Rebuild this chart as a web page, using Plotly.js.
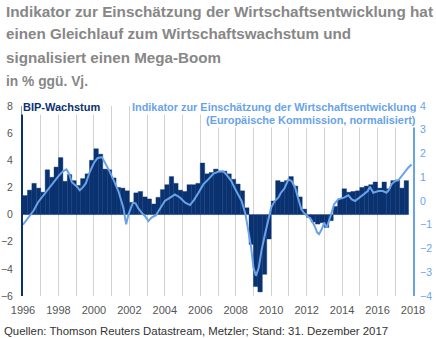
<!DOCTYPE html>
<html>
<head>
<meta charset="utf-8">
<script src="https://cdn.plot.ly/plotly-3.0.1.min.js"></script>
<style>html,body{margin:0;padding:0;background:#fff;}#chart{width:436px;height:338px;}</style>
</head>
<body>
<div id="chart"></div>
<script>
// Quarterly real GDP growth, % y/y, starting 1996 Q1 (through 2017 Q3)
const gdpStartYear = 1996;
const gdpGrowth = [
  1.4, 1.8, 2.3, 1.95,
  1.65, 3.3, 2.75, 3.5,
  4.2, 2.45, 2.95, 2.5,
  2.15, 2.65, 3.0, 4.0,
  4.85, 4.45, 3.35, 3.3,
  2.7, 2.0, 1.95, 1.75,
  0.9, 1.6, 1.7, 1.3,
  1.15, 0.78, 1.27, 1.84,
  2.2, 2.8, 2.3, 1.8,
  1.7, 2.2, 2.2, 2.3,
  3.8, 3.0, 3.1, 3.35,
  3.2, 3.2, 3.0, 2.6,
  2.25, 1.75, 0.5, -2.2,
  -5.3, -5.7, -4.4, -1.8,
  1.0, 2.5, 2.4, 2.5,
  2.8, 2.1, 1.3, 0.4,
  -0.2, -0.55, -0.7, -0.6,
  -0.95, -0.45, 0.6, 1.15,
  1.9, 1.65, 1.7, 1.75,
  2.0, 2.1, 2.2, 2.4,
  1.95, 2.4, 1.9, 2.5,
  2.55, 1.95, 2.5
];

// Economic sentiment indicator (European Commission, normalised)
const indicatorDates = [
  1996.0, 1996.2, 1996.4, 1996.6, 1996.85, 1997.15, 1997.4, 1997.7, 1998.0, 1998.25,
  1998.45, 1998.6, 1998.75, 1998.9, 1999.05, 1999.2, 1999.35, 1999.55, 1999.75, 2000.0,
  2000.2, 2000.45, 2000.65, 2000.85, 2001.1, 2001.38, 2001.66, 2001.82, 2001.95, 2002.2,
  2002.35, 2002.5, 2002.7, 2002.9, 2003.07, 2003.25, 2003.5, 2003.75, 2004.0, 2004.3,
  2004.57, 2004.85, 2005.15, 2005.42, 2005.65, 2005.9, 2006.17, 2006.45, 2006.75, 2007.0,
  2007.3, 2007.55, 2007.75, 2007.95, 2008.15, 2008.33, 2008.55, 2008.71, 2008.87, 2009.0,
  2009.14, 2009.3, 2009.45, 2009.65, 2009.85, 2010.0, 2010.2, 2010.4, 2010.55, 2010.75,
  2010.97, 2011.15, 2011.35, 2011.55, 2011.7, 2011.85, 2012.05, 2012.25, 2012.45, 2012.6,
  2012.7, 2012.85, 2012.99, 2013.13, 2013.35, 2013.55, 2013.78, 2014.1, 2014.35, 2014.55,
  2014.73, 2014.95, 2015.2, 2015.45, 2015.57, 2015.76, 2016.05, 2016.3, 2016.5, 2016.62,
  2016.79, 2016.98, 2017.17, 2017.36, 2017.55, 2017.73, 2017.92
];
const indicatorValues = [
  -1.0, -0.8, -0.65, -0.4, -0.05, 0.25, 0.5, 0.8, 1.05, 1.25,
  1.33, 1.15, 0.8, 0.7, 0.6, 0.45, 0.55, 0.75, 1.2, 1.6,
  1.8, 1.85, 1.6, 1.3, 0.9, 0.42, -0.28, -0.98, -0.56, -0.07,
  -0.1, -0.3, -0.5, -0.65, -0.85, -0.7, -0.6, -0.28, 0.0, 0.14,
  0.28, 0.15, -0.07, -0.17, 0.05, 0.35, 0.7, 0.91, 1.15, 1.23,
  1.25, 1.05, 0.84, 0.53, 0.28, 0.0, -0.56, -1.26, -1.96, -2.8,
  -3.15, -2.8, -2.1, -1.4, -0.7, -0.28, 0.0, 0.14, 0.35, 0.53,
  0.91, 0.84, 0.56, 0.07, -0.35, -0.5, -0.63, -0.77, -1.05, -1.33,
  -1.4, -1.19, -0.91, -1.12, -0.63, -0.14, 0.07, 0.14, 0.24, 0.07,
  0.0, 0.14, 0.3, 0.42, 0.6, 0.35, 0.42, 0.42, 0.35, 0.45,
  0.7, 0.84, 0.87, 1.05, 1.26, 1.4, 1.54
];

const yearTicks = [1996,1997,1998,1999,2000,2001,2002,2003,2004,2005,2006,2007,2008,2009,2010,2011,2012,2013,2014,2015,2016,2017,2018];
const yearTickLabels = ['1996','','1998','','2000','','2002','','2004','','2006','','2008','','2010','','2012','','2014','','2016','','2018'];
const leftTicks = [-6,-4,-2,0,2,4,6,8];
const rightTicks = [-4,-3,-2,-1,0,1,2,3,4];

const titleLines = [
  'Indikator zur Einschätzung der Wirtschaftsentwicklung hat',
  'einen Gleichlauf zum Wirtschaftswachstum und',
  'signalisiert einen Mega-Boom',
  'in % ggü. Vj.'
];
const titleWidths = [427, 345, 215, 82];
const gdpLabel = 'BIP-Wachstum';
const indicatorLabel1 = 'Indikator zur Einschätzung der Wirtschaftsentwicklung';
const indicatorLabel2 = '(Europäische Kommission, normalisiert)';
const sourceText = 'Quellen: Thomson Reuters Datastream, Metzler; Stand: 31. Dezember 2017';

const NAVY = '#0b3270';
const LIGHT = '#68a3ea';

const gdpX = gdpGrowth.map((v, i) => gdpStartYear + i / 4 + 0.125);

const traces = [
  {
    type: 'bar', x: gdpX, y: gdpGrowth, width: 0.25,
    marker: {color: NAVY, line: {color: NAVY, width: 0.4}},
    yaxis: 'y', hoverinfo: 'skip'
  },
  {
    type: 'scatter', mode: 'lines', x: indicatorDates, y: indicatorValues,
    line: {color: LIGHT, width: 2}, yaxis: 'y2', hoverinfo: 'skip'
  }
];

const W = 390, H = 190, L = 23, T = 106;
const px = v => (v - L) / W;
const py = v => (T + H - v) / H;

const titleFont = {family: 'Liberation Sans, Arial, sans-serif', size: 15.1, color: '#878787', weight: 700};
const titleY = [11, 34, 57, 80];
const annotations = titleLines.map((t, i) => ({
  text: t, xref: 'paper', yref: 'paper', x: px(4), y: py(titleY[i]), align: 'left',
  xanchor: 'left', yanchor: 'middle', showarrow: false, font: titleFont
}));
annotations.push({
  text: gdpLabel, xref: 'paper', yref: 'paper', x: px(21), y: py(106.5),
  xanchor: 'left', yanchor: 'middle', showarrow: false, bgcolor: '#ffffff', borderpad: 1,
  font: {family: 'Liberation Sans, Arial, sans-serif', size: 11, color: NAVY, weight: 700}
});
annotations.push({
  text: indicatorLabel1, xref: 'paper', yref: 'paper', x: px(418), y: py(106.7),
  xanchor: 'right', yanchor: 'middle', showarrow: false, bgcolor: '#ffffff', borderpad: 1,
  font: {family: 'Liberation Sans, Arial, sans-serif', size: 10.9, color: LIGHT, weight: 700}
});
annotations.push({
  text: indicatorLabel2, xref: 'paper', yref: 'paper', x: px(418), y: py(119.5),
  xanchor: 'right', yanchor: 'middle', showarrow: false, bgcolor: '#ffffff', borderpad: 1,
  font: {family: 'Liberation Sans, Arial, sans-serif', size: 10.9, color: LIGHT, weight: 700}
});
annotations.push({
  text: sourceText, xref: 'paper', yref: 'paper', x: px(2), y: py(330.5),
  xanchor: 'left', yanchor: 'middle', showarrow: false,
  font: {family: 'Liberation Sans, Arial, sans-serif', size: 11.4, color: '#333333'}
});

const layout = {
  width: 436, height: 338,
  margin: {l: L, r: 436 - L - W, t: T, b: 338 - T - H, pad: 0},
  paper_bgcolor: '#ffffff', plot_bgcolor: '#ffffff',
  showlegend: false, bargap: 0,
  font: {family: 'Liberation Sans, Arial, sans-serif'},
  xaxis: {
    range: [1996, 2018], tickvals: yearTicks, ticktext: yearTickLabels,
    showgrid: true, gridcolor: '#d2d2d2', gridwidth: 1, zeroline: false, showline: false,
    ticks: '', ticklabelstandoff: 6, tickfont: {size: 11, color: '#555555'}
  },
  yaxis: {
    range: [-6, 8], tickvals: leftTicks, showgrid: false, zeroline: false,
    showline: true, linecolor: NAVY, linewidth: 2, ticks: '', ticklabelstandoff: 6,
    tickfont: {size: 10.5, color: '#555555'}
  },
  yaxis2: {
    range: [-4, 4], tickvals: rightTicks, overlaying: 'y', side: 'right',
    showgrid: false, zeroline: false, showline: true, linecolor: LIGHT, linewidth: 2,
    ticks: '', ticklabelstandoff: 3, tickfont: {size: 10.5, color: LIGHT}
  },
  annotations: annotations
};

Plotly.newPlot('chart', traces, layout, {staticPlot: true, displayModeBar: false}).then(gd => {
  // condense the title lines to the narrow width of the original headline font
  gd.querySelectorAll('text.annotation-text').forEach(el => {
    const idx = titleLines.indexOf(el.textContent);
    if (idx >= 0) {
      el.setAttribute('textLength', titleWidths[idx]);
      el.setAttribute('lengthAdjust', 'spacingAndGlyphs');
    }
  });
});
</script>
</body>
</html>
